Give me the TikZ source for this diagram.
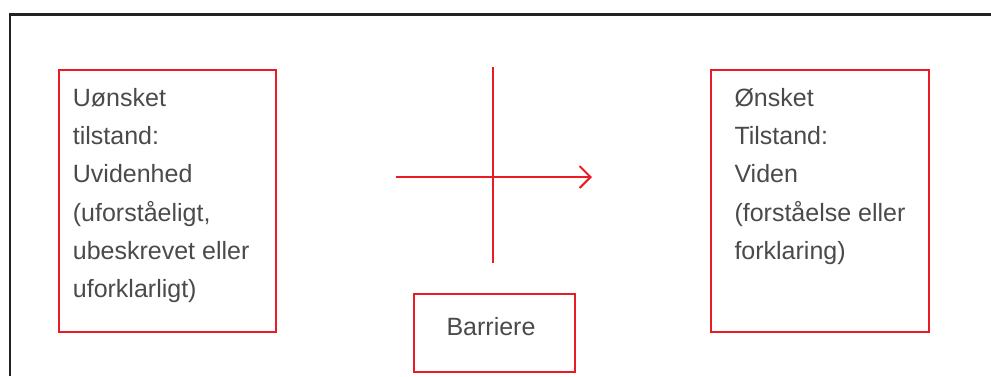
\documentclass[tikz,border=0pt]{standalone}
\usepackage{fontspec}
\setmainfont{Liberation Sans}
\usetikzlibrary{arrows.meta}
\definecolor{boxred}{RGB}{232,28,36}
\definecolor{txtgray}{RGB}{74,74,74}
\definecolor{framecol}{RGB}{34,34,34}
\tikzset{
  redbox/.style={draw=boxred, line width=2pt, inner sep=0pt, anchor=north west},
  boxtext/.style={text=txtgray, align=left, inner sep=0pt, anchor=north west,
    font=\fontsize{25}{38.3}\selectfont},
  redline/.style={draw=boxred, line width=2pt},
  framestyle/.style={draw=framecol, line width=2.5pt}
}
\begin{document}
\begin{tikzpicture}[x=1pt,y=-1pt]
\useasboundingbox (0,0) rectangle (991,376);
\draw[framestyle] (991,14.5) -- (10,14.5) -- (10,376);
\node[redbox, minimum width=217pt, minimum height=262pt] (lbox) at (58,69) {};
\node[redbox, minimum width=218pt, minimum height=262pt] (rbox) at (710,69) {};
\node[redbox, minimum width=161pt, minimum height=78pt] (bbox) at (413,293) {};
\node[text=txtgray, font=\fontsize{25}{30}\selectfont, inner sep=0pt, anchor=base] (btext) at (491,335) {Barriere};
\node[boxtext] (ltext) at (72.7,88) {Uønsket\\tilstand:\\Uvidenhed\\(uforståeligt,\\ubeskrevet eller\\uforklarligt)};
\node[boxtext] (rtext) at (734.3,88) {Ønsket\\Tilstand:\\Viden\\(forståelse eller\\forklaring)};
\coordinate (vtop) at (493,67);
\coordinate (vbot) at (493,263);
\coordinate (hstart) at (396,177);
\coordinate (hend) at (592,177);
\draw[redline] (vtop) -- (vbot);
\draw[redline, -{Straight Barb[length=11pt,width=22pt,line width=2pt]}] (hstart) -- (hend);
\end{tikzpicture}
\end{document}
